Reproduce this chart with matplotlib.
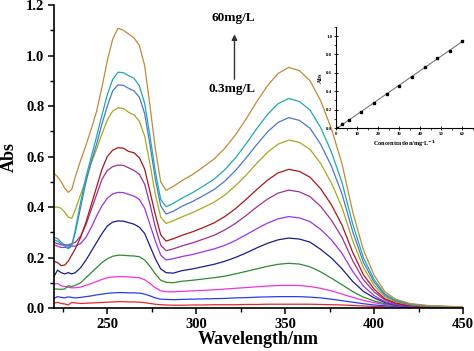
import matplotlib
matplotlib.use('Agg')
import matplotlib.pyplot as plt
from matplotlib.ticker import MultipleLocator
import numpy as np

plt.rcParams['font.family'] = ['Liberation Serif', 'DejaVu Serif']
plt.rcParams['font.weight'] = 'bold'

# wavelength grid (nm)
wl = [220, 222, 224, 226, 228, 230, 232, 235, 238, 241, 244, 247, 250, 253, 256, 259,
      262, 265, 268, 271, 274, 277, 280, 283, 287, 292, 298, 304, 310, 316, 322, 328,
      334, 340, 346, 352, 358, 364, 370, 376, 382, 388, 394, 400, 406, 412, 420, 430,
      440, 450]

# absorbance spectra, lowest to highest concentration
abs_0_3 = [0.02, 0.022, 0.018, 0.016, 0.012, 0.022, 0.02, 0.018, 0.019, 0.02, 0.021, 0.022, 0.023, 0.024, 0.025, 0.025,
           0.024, 0.024, 0.023, 0.021, 0.018, 0.015, 0.013, 0.012,
           0.011, 0.011, 0.012, 0.012, 0.013, 0.013, 0.013, 0.014, 0.014, 0.015, 0.015, 0.015,
           0.015, 0.015, 0.014, 0.013, 0.012, 0.010, 0.008, 0.006, 0.005, 0.004,
           0.003, 0.003, 0.002, 0.002]
abs_3 = [0.038, 0.045, 0.042, 0.04, 0.044, 0.042, 0.04, 0.042, 0.045, 0.048, 0.052, 0.055, 0.058, 0.06, 0.061, 0.061,
         0.06, 0.06, 0.059, 0.055, 0.048, 0.04, 0.035, 0.034,
         0.033, 0.034, 0.035, 0.036, 0.037, 0.038, 0.040, 0.041, 0.043, 0.044, 0.045, 0.045,
         0.045, 0.043, 0.040, 0.035, 0.029, 0.023, 0.017, 0.012, 0.009, 0.006,
         0.004, 0.003, 0.003, 0.002]
abs_6 = [0.095, 0.097, 0.088, 0.085, 0.082, 0.08, 0.08, 0.083, 0.09, 0.097, 0.105, 0.113, 0.12, 0.123, 0.124, 0.124,
         0.123, 0.122, 0.12, 0.112, 0.097, 0.08, 0.068, 0.065,
         0.064, 0.066, 0.068, 0.070, 0.072, 0.075, 0.078, 0.081, 0.084, 0.087, 0.089, 0.090,
         0.089, 0.085, 0.078, 0.068, 0.055, 0.042, 0.030, 0.021, 0.014, 0.009,
         0.006, 0.004, 0.003, 0.003]
abs_12 = [0.075, 0.075, 0.074, 0.075, 0.088, 0.085, 0.09, 0.10, 0.12, 0.14, 0.16, 0.18, 0.195, 0.205, 0.209, 0.209,
          0.207, 0.206, 0.203, 0.19, 0.165, 0.135, 0.11, 0.102,
          0.100, 0.106, 0.110, 0.115, 0.120, 0.126, 0.135, 0.145, 0.155, 0.165, 0.173, 0.177,
          0.174, 0.163, 0.143, 0.118, 0.092, 0.065, 0.043, 0.028, 0.017, 0.010,
          0.006, 0.003, 0.002, 0.002]
abs_18 = [0.125, 0.15, 0.14, 0.135, 0.14, 0.135, 0.14, 0.16, 0.19, 0.225, 0.26, 0.295, 0.325, 0.34, 0.345, 0.344,
          0.338, 0.332, 0.32, 0.295, 0.245, 0.195, 0.155, 0.14,
          0.138, 0.148, 0.155, 0.164, 0.173, 0.185, 0.200, 0.218, 0.238, 0.256, 0.270, 0.277,
          0.273, 0.261, 0.232, 0.198, 0.155, 0.105, 0.066, 0.040, 0.022, 0.012,
          0.005, 0.003, 0.002, 0.002]
abs_24 = [0.25, 0.245, 0.24, 0.24, 0.24, 0.245, 0.245, 0.255, 0.28, 0.32, 0.365, 0.405, 0.435, 0.452, 0.458, 0.457,
          0.45, 0.443, 0.43, 0.395, 0.33, 0.265, 0.21, 0.19,
          0.195, 0.204, 0.212, 0.223, 0.234, 0.248, 0.267, 0.290, 0.314, 0.336, 0.353, 0.362,
          0.357, 0.342, 0.311, 0.270, 0.216, 0.145, 0.087, 0.049, 0.025, 0.013,
          0.007, 0.004, 0.003, 0.002]
abs_30 = [0.26, 0.255, 0.25, 0.25, 0.25, 0.255, 0.26, 0.285, 0.33, 0.39, 0.45, 0.51, 0.545, 0.56, 0.566, 0.565,
          0.555, 0.545, 0.53, 0.49, 0.41, 0.32, 0.25, 0.227,
          0.234, 0.246, 0.258, 0.273, 0.288, 0.309, 0.335, 0.366, 0.400, 0.431, 0.455, 0.467,
          0.460, 0.441, 0.402, 0.348, 0.279, 0.187, 0.112, 0.064, 0.032, 0.017,
          0.009, 0.005, 0.004, 0.003]
abs_36 = [0.185, 0.18, 0.168, 0.17, 0.185, 0.21, 0.235, 0.28, 0.34, 0.41, 0.48, 0.55, 0.60, 0.625, 0.635, 0.633,
          0.62, 0.615, 0.595, 0.55, 0.46, 0.37, 0.29, 0.265,
          0.274, 0.288, 0.302, 0.319, 0.337, 0.362, 0.393, 0.430, 0.469, 0.506, 0.535, 0.549,
          0.541, 0.518, 0.472, 0.409, 0.328, 0.220, 0.132, 0.075, 0.037, 0.020,
          0.010, 0.006, 0.004, 0.003]
abs_42 = [0.40, 0.40, 0.395, 0.38, 0.36, 0.355, 0.39, 0.45, 0.51, 0.575, 0.63, 0.69, 0.745, 0.78, 0.793, 0.79,
          0.775, 0.765, 0.74, 0.68, 0.57, 0.45, 0.36, 0.335,
          0.345, 0.361, 0.378, 0.398, 0.419, 0.447, 0.484, 0.526, 0.573, 0.616, 0.649, 0.665,
          0.656, 0.628, 0.572, 0.495, 0.398, 0.266, 0.160, 0.090, 0.045, 0.025,
          0.013, 0.007, 0.005, 0.004]
abs_48 = [0.28, 0.275, 0.26, 0.25, 0.245, 0.25, 0.30, 0.40, 0.50, 0.58, 0.65, 0.73, 0.80, 0.86, 0.884, 0.882,
          0.87, 0.86, 0.835, 0.77, 0.645, 0.51, 0.405, 0.372,
          0.383, 0.403, 0.422, 0.445, 0.469, 0.502, 0.544, 0.594, 0.647, 0.697, 0.735, 0.754,
          0.743, 0.712, 0.648, 0.562, 0.451, 0.302, 0.181, 0.103, 0.051, 0.028,
          0.014, 0.008, 0.006, 0.004]
abs_54 = [0.27, 0.265, 0.255, 0.245, 0.235, 0.245, 0.31, 0.42, 0.52, 0.60, 0.68, 0.765, 0.845, 0.905, 0.934, 0.932,
          0.92, 0.91, 0.88, 0.81, 0.68, 0.54, 0.43, 0.401,
          0.414, 0.435, 0.457, 0.483, 0.510, 0.547, 0.594, 0.650, 0.710, 0.766, 0.809, 0.830,
          0.818, 0.784, 0.714, 0.618, 0.496, 0.332, 0.199, 0.113, 0.056, 0.031,
          0.016, 0.009, 0.006, 0.004]
abs_60 = [0.533, 0.52, 0.50, 0.475, 0.458, 0.47, 0.52, 0.585, 0.645, 0.71, 0.78, 0.876, 0.98, 1.065, 1.108, 1.10,
          1.085, 1.07, 1.04, 0.96, 0.80, 0.63, 0.50, 0.466,
          0.481, 0.505, 0.529, 0.559, 0.590, 0.632, 0.685, 0.748, 0.817, 0.880, 0.929, 0.953,
          0.940, 0.90, 0.82, 0.71, 0.57, 0.38, 0.23, 0.13, 0.065, 0.035,
          0.018, 0.01, 0.007, 0.005]

spectra = [abs_0_3, abs_3, abs_6, abs_12, abs_18, abs_24, abs_30, abs_36,
           abs_42, abs_48, abs_54, abs_60]
colors = ['#e8262a', '#2b3cf0', '#f032d8', '#2e8b2e', '#1c1c8c', '#9933ee',
          '#a03090', '#a81818', '#a8a820', '#4a78c8', '#20a8b0', '#c08a38']

# calibration inset
conc = [0.3, 3, 6, 12, 18, 24, 30, 36, 42, 48, 54, 60]
conc_abs = [0.0, 0.04, 0.09, 0.173, 0.27, 0.365, 0.462, 0.56, 0.668, 0.758, 0.838, 0.946]

fig = plt.figure(figsize=(4.74, 3.51), dpi=100)
ax = fig.add_axes([0.1139, 0.1225, 0.8629, 0.8632])

for s, c in zip(spectra, colors):
	ax.plot(wl, s, color=c, lw=0.9)

ax.set_xlim(220, 450)
ax.set_ylim(0, 1.2)
ax.xaxis.set_major_locator(MultipleLocator(50))
ax.xaxis.set_minor_locator(MultipleLocator(25))
ax.yaxis.set_major_locator(MultipleLocator(0.2))
ax.yaxis.set_minor_locator(MultipleLocator(0.1))
ax.yaxis.set_major_formatter(plt.FormatStrFormatter('%.1f'))
for side in ['top', 'right']:
	ax.spines[side].set_visible(False)
ax.spines['left'].set_linewidth(1.2)
ax.spines['bottom'].set_linewidth(1.2)
ax.tick_params(which='major', direction='out', length=4, width=1.1, labelsize=10.5, pad=3)
ax.tick_params(which='minor', direction='out', length=3, width=1.0)
ax.set_xlabel('Wavelength/nm', fontsize=13, fontweight='bold', labelpad=0)
ax.set_ylabel('Abs', fontsize=13, fontweight='bold', labelpad=6)

ax.text(321, 1.149, '60mg/L', ha='center', va='center', fontsize=9.5, fontweight='bold')
ax.text(320, 0.867, '0.3mg/L', ha='center', va='center', fontsize=9.5, fontweight='bold')
ax.annotate('', xy=(321.5, 1.095), xytext=(321.5, 0.895),
            arrowprops=dict(arrowstyle='-|>', color='#333333', lw=1.0, mutation_scale=8))

# inset: calibration curve
ins = fig.add_axes([0.7089, 0.6353, 0.289, 0.288])
k, b = np.polyfit(conc, conc_abs, 1)
fit_x = np.array([0, 60])
ins.plot(fit_x, k * fit_x + b, color='#777777', lw=0.8)
ins.plot(conc, conc_abs, 's', color='black', ms=1.6)
ins.set_xlim(0, 65)
ins.set_ylim(0, 1.1)
ins.xaxis.set_major_locator(MultipleLocator(10))
ins.xaxis.set_minor_locator(MultipleLocator(5))
ins.yaxis.set_major_locator(MultipleLocator(0.2))
ins.yaxis.set_minor_locator(MultipleLocator(0.1))
ins.yaxis.set_major_formatter(plt.FormatStrFormatter('%.1f'))
for side in ['top', 'right']:
	ins.spines[side].set_visible(False)
ins.spines['left'].set_linewidth(0.8)
ins.spines['bottom'].set_linewidth(0.8)
ins.patch.set_alpha(0)
ins.tick_params(which='major', direction='inout', length=2.5, width=0.6, labelsize=3.5, pad=1.5)
ins.tick_params(which='minor', direction='out', length=1.2, width=0.5)
ins.set_xlabel('Concentration/mg\u00b7L$^{-1}$', fontsize=4.5, fontweight='bold', labelpad=2)
ins.set_ylabel('Abs', fontsize=4.5, fontweight='bold', labelpad=2)

fig.savefig('out.png', dpi=100)
